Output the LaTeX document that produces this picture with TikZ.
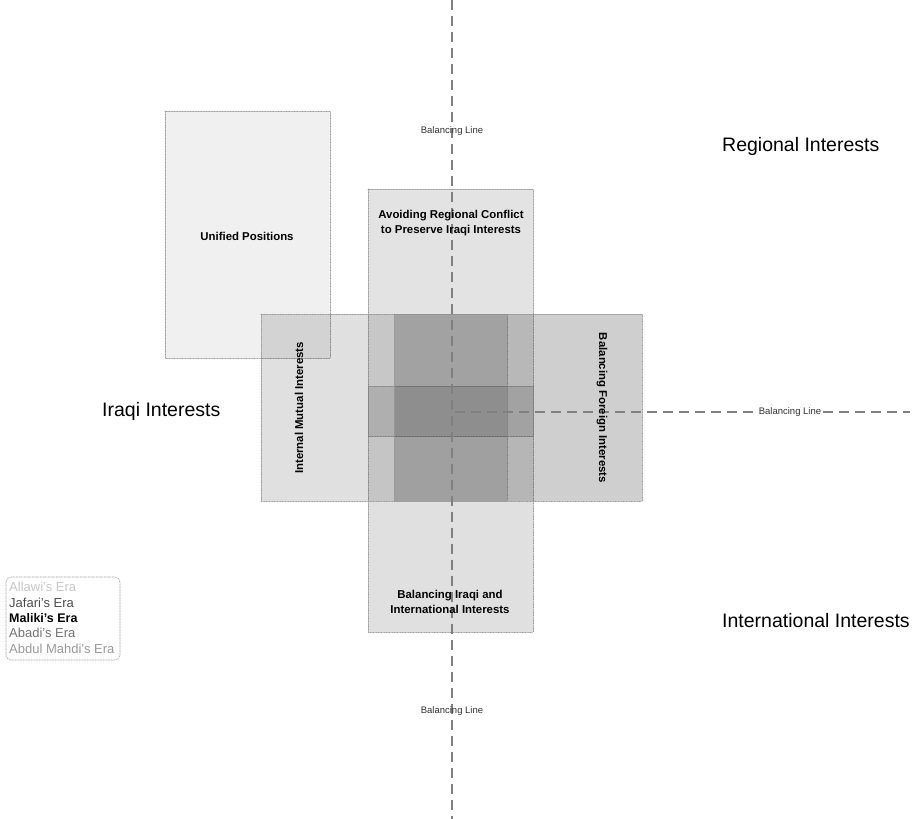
\documentclass[tikz,border=0pt]{standalone}
\usepackage{fontspec}
\setmainfont{Liberation Sans}
\usetikzlibrary{positioning}

\begin{document}
\begin{tikzpicture}[
  x=1pt, y=-1pt,
  line cap=round,
  line join=round,
  field/.style={draw=black!40, densely dotted, line width=0.6pt, fill=black},
  balance/.style={draw=black!50, dash pattern=on 10pt off 6pt, line width=1.3pt, line cap=butt},
  fieldlabel/.style={font=\bfseries\fontsize{11.4}{14.8}\selectfont, align=center, inner sep=1pt},
  sidelabel/.style={font=\fontsize{19.5}{22}\selectfont, anchor=west, inner sep=0pt},
  linelabel/.style={font=\fontsize{9.5}{11}\selectfont, text=black!80, inner sep=1pt},
  era/.style={font=\fontsize{13}{15}\selectfont, anchor=west, inner sep=0pt}
]

\def\midX{452}
\def\midY{412}

\useasboundingbox (0,0) rectangle (913,819);

% Overlapping fields of interest.
\draw[field, fill opacity=0.06] (165,111) rectangle (330,358);
\draw[field, fill opacity=0.11] (368,189) rectangle (533,436);
\draw[field, fill opacity=0.12] (368,386) rectangle (533,632);
\draw[field, fill opacity=0.12] (261,314) rectangle (507,501);
\draw[field, fill opacity=0.19] (394,314) rectangle (642,501);

% Balancing lines.
\draw[balance] (\midX,0) -- (\midX,819);
\draw[balance] (455,\midY) -- (910,\midY);
\node[linelabel] (lineTop) at (\midX,131) {Balancing Line};
\node[linelabel] (lineBottom) at (\midX,711) {Balancing Line};
\node[linelabel, fill=white] (lineRight) at (790,\midY) {Balancing Line};

% Field labels.
\node[fieldlabel] (unified) at (247,236) {Unified Positions};
\node[fieldlabel] (avoiding) at (451,223) {Avoiding Regional Conflict\\to Preserve Iraqi Interests};
\node[fieldlabel] (iraqiIntl) at (450,602) {Balancing Iraqi and\\International Interests};
\node[fieldlabel, rotate=90] (internal) at (299,408) {Internal Mutual Interests};
\node[fieldlabel, rotate=-90] (foreign) at (602,408) {Balancing Foreign Interests};

% Sides.
\node[sidelabel] (regional) at (722,146) {Regional Interests};
\node[sidelabel] (international) at (722,621) {International Interests};
\node[sidelabel] (iraqi) at (102,411) {Iraqi Interests};

% Legend of eras.
\draw[draw=black!40, densely dotted, line width=0.6pt, rounded corners=5pt] (6,577) rectangle (120,660);
\node[era, text=black!22] (allawi) at (9,587) {Allawi's Era};
\node[era, text=black!70] (jafari) at (9,603) {Jafari's Era};
\node[era, text=black, font=\bfseries\fontsize{12.5}{15}\selectfont] (maliki) at (9,618) {Maliki's Era};
\node[era, text=black!55] (abadi) at (9,633) {Abadi's Era};
\node[era, text=black!40] (mahdi) at (9,649) {Abdul Mahdi's Era};

\end{tikzpicture}
\end{document}
